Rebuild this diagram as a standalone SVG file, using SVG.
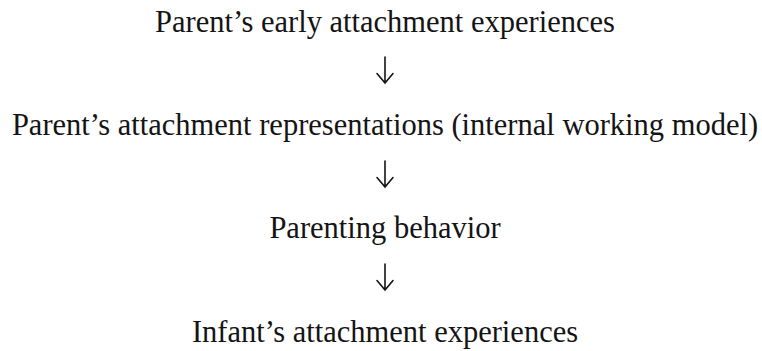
<svg xmlns="http://www.w3.org/2000/svg" width="762" height="351" viewBox="0 0 762 351">
  <style>
    .t { font-family: "Liberation Serif", "DejaVu Serif", serif; font-size: 30.5px; fill: #141414; text-anchor: middle; }
    .arrow { fill: none; stroke: #141414; stroke-width: 1.6; stroke-linecap: round; stroke-linejoin: miter; }
  </style>
  <defs>
    <!-- downward arrow: thin stem with an open chevron head -->
    <path id="down" d="M0,0 V26 M-8,16.5 L0,26 L8,16.5"/>
  </defs>
  <rect width="762" height="351" fill="#ffffff"/>
  <g id="n1"><text class="t" x="385" y="32">Parent’s early attachment experiences</text></g>
  <g id="n2"><text class="t" x="385" y="135">Parent’s attachment representations (internal working model)</text></g>
  <g id="n3"><text class="t" x="385" y="238">Parenting behavior</text></g>
  <g id="n4"><text class="t" x="385" y="342">Infant’s attachment experiences</text></g>
  <g id="connectors" class="arrow">
    <use href="#down" x="385" y="57"/>
    <use href="#down" x="385" y="161"/>
    <use href="#down" x="385" y="264"/>
  </g>
</svg>
